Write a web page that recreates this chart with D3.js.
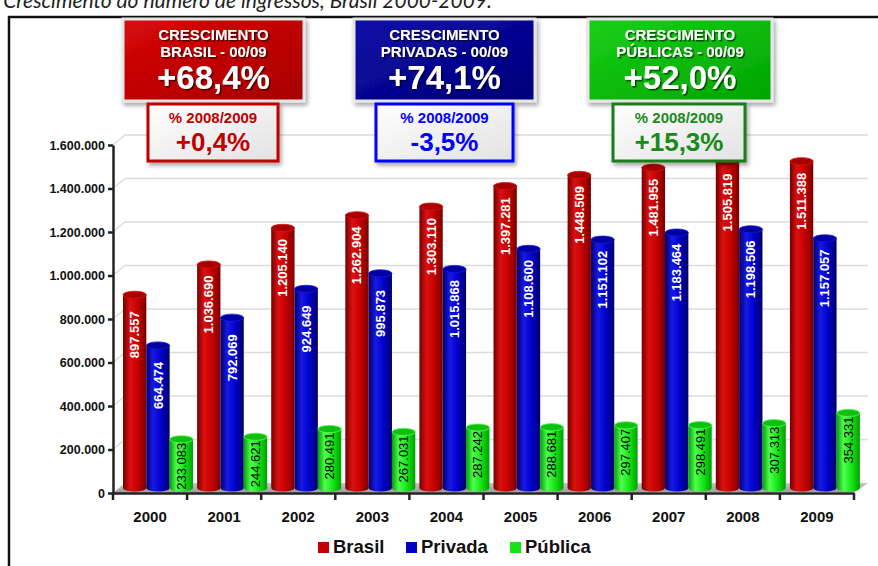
<!DOCTYPE html>
<html>
<head>
<meta charset="utf-8">
<script src="https://cdn.jsdelivr.net/npm/d3@7"></script>
<style>
 body { margin: 0; background: #fff; }
 svg { display: block; font-family: "Liberation Sans", Arial, sans-serif; }
</style>
</head>
<body>
<script>
// valores
var years = ["2000", "2001", "2002", "2003", "2004", "2005", "2006", "2007", "2008", "2009"];
var brasil = [897557, 1036690, 1205140, 1262904, 1303110, 1397281, 1448509, 1481955, 1505819, 1511388];
var privada = [664474, 792069, 924649, 995873, 1015868, 1108600, 1151102, 1183464, 1198506, 1157057];
var publica = [233083, 244621, 280491, 267031, 287242, 288681, 297407, 298491, 307313, 354331];
var yTicks = [0, 200000, 400000, 600000, 800000, 1000000, 1200000, 1400000, 1600000];
var seriesNames = ["Brasil", "Privada", "Pública"];
var boxTitles = [["CRESCIMENTO", "BRASIL - 00/09"], ["CRESCIMENTO", "PRIVADAS - 00/09"], ["CRESCIMENTO", "PÚBLICAS - 00/09"]];
var boxGrowth = ["+68,4%", "+74,1%", "+52,0%"];
var boxYearLabel = "% 2008/2009";
var boxYear = ["+0,4%", "-3,5%", "+15,3%"];

var width = 878, height = 566;
var depthX = 12, depthY = 10;

var fmt = d3.formatLocale({decimal: ",", thousands: ".", grouping: [3], currency: ["R$", ""]}).format(",d");

var svg = d3.select("body").append("svg")
 .attr("width", width)
 .attr("height", height);

var defs = svg.append("defs");

var colors = [
 {dark: "#760000", bright: "#dc1010", mid: "#c40000", cap: "#a80000", box1: "#d80808", box2: "#a80000", sub: "#c00000", subBorder: "#c00000"},
 {dark: "#00006a", bright: "#1818e8", mid: "#0000c8", cap: "#0000a0", box1: "#0c0ca8", box2: "#00007a", sub: "#0000ff", subBorder: "#0000ff"},
 {dark: "#00a000", bright: "#50ff50", mid: "#14e414", cap: "#10c010", box1: "#18d018", box2: "#00a400", sub: "#1a8a1a", subBorder: "#1c7c1c"}
];

colors.forEach(function(c, i) {
 var g = defs.append("linearGradient").attr("id", "cyl" + i)
  .attr("x1", 0).attr("x2", 1).attr("y1", 0).attr("y2", 0);
 g.append("stop").attr("offset", "0%").attr("stop-color", c.dark);
 g.append("stop").attr("offset", "30%").attr("stop-color", c.bright);
 g.append("stop").attr("offset", "65%").attr("stop-color", c.mid);
 g.append("stop").attr("offset", "100%").attr("stop-color", c.dark);

 var b = defs.append("linearGradient").attr("id", "box" + i)
  .attr("x1", 0).attr("x2", 1).attr("y1", 0).attr("y2", 1);
 b.append("stop").attr("offset", "0%").attr("stop-color", c.box1);
 b.append("stop").attr("offset", "100%").attr("stop-color", c.box2);
});

var subGrad = defs.append("linearGradient").attr("id", "subfill")
 .attr("x1", 0).attr("x2", 1).attr("y1", 0).attr("y2", 1);
subGrad.append("stop").attr("offset", "0%").attr("stop-color", "#ffffff");
subGrad.append("stop").attr("offset", "100%").attr("stop-color", "#e2e2e2");

var floorGrad = defs.append("linearGradient").attr("id", "floor")
 .attr("x1", 0).attr("x2", 0).attr("y1", 0).attr("y2", 1);
floorGrad.append("stop").attr("offset", "0%").attr("stop-color", "#c4c4c4");
floorGrad.append("stop").attr("offset", "100%").attr("stop-color", "#9a9a9a");

var shadow = defs.append("filter").attr("id", "shadow")
 .attr("x", "-10%").attr("y", "-10%").attr("width", "130%").attr("height", "130%");
shadow.append("feDropShadow").attr("dx", 2).attr("dy", 3).attr("stdDeviation", 2)
 .attr("flood-color", "#000").attr("flood-opacity", 0.35);

var tshadow = defs.append("filter").attr("id", "tshadow");
tshadow.append("feDropShadow").attr("dx", 1.5).attr("dy", 1.5).attr("stdDeviation", 0.6)
 .attr("flood-color", "#000").attr("flood-opacity", 0.6);

// texto de cima (no original aparece cortado pela borda)
svg.append("text")
 .attr("x", 492).attr("y", 8)
 .attr("text-anchor", "end")
 .style("font-family", "Lato, 'Open Sans', sans-serif")
 .style("font-size", "21px")
 .style("font-style", "italic")
 .attr("fill", "#222")
 .text("Crescimento do número de ingressos, Brasil 2000-2009.");

// moldura
svg.append("path")
 .attr("d", "M9,570V17H880")
 .attr("fill", "none")
 .attr("stroke", "#111")
 .attr("stroke-width", 2.5);

var x0 = d3.scaleBand().domain(years).range([113, 854]);
var x1 = d3.scaleBand().domain(seriesNames).range([10, 80]);
var y = d3.scaleLinear().domain([0, 1600000]).range([493, 145]);

// linhas de grade com profundidade
svg.append("g").selectAll("path")
 .data(yTicks.slice(1))
 .enter().append("path")
 .attr("d", function(d) {
  return "M" + x0.range()[0] + "," + y(d) + "L" + (x0.range()[0] + depthX) + "," + (y(d) - depthY) + "H" + (x0.range()[1] + 14);
 })
 .attr("fill", "none")
 .attr("stroke", "#dcdcdc")
 .attr("stroke-width", 1.5);

// piso
var fx0 = x0.range()[0], fx1 = x0.range()[1];
svg.append("path")
 .attr("d", "M" + fx0 + "," + y(0) + "L" + (fx0 + depthX) + "," + (y(0) - depthY) + "H" + (fx1 + 14) + "L" + (fx1 + 1) + "," + (y(0) - 1) + "Z")
 .attr("fill", "url(#floor)");

// cilindros
var series = [brasil, privada, publica];
var bw = x1.bandwidth();
var ry = 3.6;
var baseY = y(0) - 5;

var groups = svg.append("g").selectAll("g")
 .data(years)
 .enter().append("g")
 .attr("transform", function(d) { return "translate(" + x0(d) + ",0)"; });

groups.each(function(year, yi) {
 var g = d3.select(this);
 seriesNames.forEach(function(name, si) {
  var v = series[si][yi];
  var top = y(v) - 3;
  var bx = x1(name);
  var c = colors[si];
  g.append("path")
   .attr("d", "M" + bx + "," + top + "V" + baseY +
    "A" + bw / 2 + "," + ry + " 0 0 0 " + (bx + bw) + "," + baseY +
    "V" + top + "Z")
   .attr("fill", "url(#cyl" + si + ")");
  g.append("ellipse")
   .attr("cx", bx + bw / 2).attr("cy", top)
   .attr("rx", bw / 2).attr("ry", ry)
   .attr("fill", c.cap)
   .attr("stroke", c.bright)
   .attr("stroke-width", 0.8);

  var cy = si === 2 ? top + 27 : top + 40;
  g.append("text")
   .attr("transform", "translate(" + (bx + bw / 2 + 4.5) + "," + cy + ") rotate(-90)")
   .attr("text-anchor", "middle")
   .style("font-size", "13px")
   .style("font-weight", si === 2 ? "normal" : "bold")
   .attr("fill", si === 2 ? "#000" : "#fff")
   .text(fmt(v));
 });
});

// eixo y
var yAxis = svg.append("g")
 .attr("transform", "translate(" + x0.range()[0] + ",0)")
 .call(d3.axisLeft(y).tickValues(yTicks).tickFormat(fmt).tickSize(5).tickSizeOuter(0).tickPadding(3));
yAxis.select(".domain").attr("stroke", "#222").attr("stroke-width", 2.5);
yAxis.selectAll(".tick line").attr("stroke", "#222").attr("stroke-width", 2.5);
yAxis.selectAll("text")
 .style("font-family", "'Liberation Sans', Arial, sans-serif")
 .style("font-size", "12.5px")
 .style("font-weight", "bold")
 .attr("fill", "#111");

// eixo x
var xAxis = svg.append("g")
 .attr("transform", "translate(0," + y(0) + ")")
 .call(d3.axisBottom(x0).tickSize(0).tickPadding(18));
xAxis.select(".domain").attr("stroke", "#222").attr("stroke-width", 2.5);
xAxis.selectAll("text")
 .style("font-family", "'Liberation Sans', Arial, sans-serif")
 .style("font-size", "15px")
 .style("font-weight", "bold")
 .attr("fill", "#111");
xAxis.selectAll(".sep")
 .data(years.map(function(d) { return x0(d); }).concat([x0.range()[1]]))
 .enter().append("line")
 .attr("class", "sep")
 .attr("x1", function(d) { return d; }).attr("x2", function(d) { return d; })
 .attr("y1", 0).attr("y2", 7)
 .attr("stroke", "#222").attr("stroke-width", 2.5);

// caixas de crescimento
var boxX = [123, 354, 588];
var boxW = [181, 181, 184];
var subX = [148, 376, 613];
var subW = [130, 137, 132];

var boxes = svg.append("g").selectAll("g")
 .data(boxGrowth)
 .enter().append("g");

boxes.each(function(d, i) {
 var g = d3.select(this);
 var c = colors[i];
 g.append("rect")
  .attr("x", boxX[i]).attr("y", 19)
  .attr("width", boxW[i]).attr("height", 82)
  .attr("fill", "url(#box" + i + ")")
  .attr("stroke", "#e6e6e6").attr("stroke-width", 3)
  .attr("filter", "url(#shadow)");
 var cx = boxX[i] + boxW[i] / 2;
 var tg = g.append("g").attr("filter", "url(#tshadow)").attr("fill", "#fff")
  .attr("text-anchor", "middle").style("font-weight", "bold");
 tg.append("text").attr("x", cx).attr("y", 40).style("font-size", "15px").text(boxTitles[i][0]);
 tg.append("text").attr("x", cx).attr("y", 57).style("font-size", "15px").text(boxTitles[i][1]);
 tg.append("text").attr("x", cx).attr("y", 89).style("font-size", "33px").text(d);

 g.append("rect")
  .attr("x", subX[i]).attr("y", 104)
  .attr("width", subW[i]).attr("height", 57)
  .attr("fill", "url(#subfill)")
  .attr("stroke", c.subBorder).attr("stroke-width", 3)
  .attr("filter", "url(#shadow)");
 var scx = subX[i] + subW[i] / 2;
 g.append("text").attr("x", scx).attr("y", 123)
  .attr("text-anchor", "middle").style("font-weight", "bold").style("font-size", "15px")
  .attr("fill", c.sub).text(boxYearLabel);
 g.append("text").attr("x", scx).attr("y", 151)
  .attr("text-anchor", "middle").style("font-weight", "bold").style("font-size", "26px")
  .attr("fill", c.sub).text(boxYear[i]);
});

// legenda
var legX = [318, 406, 510];
var legend = svg.append("g").selectAll("g")
 .data(seriesNames)
 .enter().append("g")
 .attr("transform", function(d, i) { return "translate(" + legX[i] + ",542)"; });
legend.append("rect")
 .attr("width", 11).attr("height", 11)
 .attr("fill", function(d, i) { return colors[i].mid; });
legend.append("text")
 .attr("x", 15).attr("y", 11)
 .style("font-size", "18.5px").style("font-weight", "bold")
 .attr("fill", "#111")
 .text(function(d) { return d; });
</script>
</body>
</html>
